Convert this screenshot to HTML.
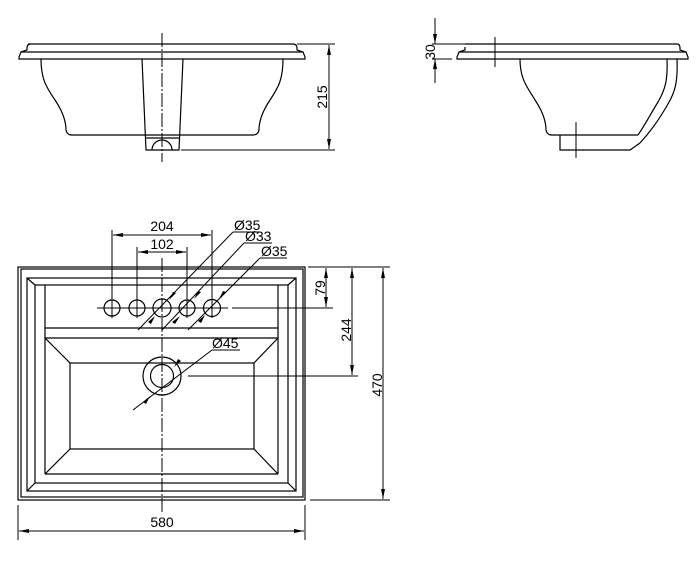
<!DOCTYPE html>
<html><head><meta charset="utf-8"><style>
html,body{margin:0;padding:0;background:#fff;}
svg{display:block;}
text{font-family:"Liberation Sans",sans-serif;font-size:14px;fill:#000;}
</style></head><body>
<svg width="700" height="562" viewBox="0 0 700 562" xmlns="http://www.w3.org/2000/svg">
<defs>
<marker id="a" viewBox="0 0 10 4" refX="10" refY="2" markerWidth="10" markerHeight="4" markerUnits="userSpaceOnUse" orient="auto-start-reverse"><path d="M0,0 L10,2 L0,4 z" fill="#000"/></marker>
</defs>
<g fill="none" stroke="#000" stroke-width="1.2">
<path d="M28,44 L293,44 Q297,44 297,48 L297,50 L303,52 L305,57 L305,59 L19,59 L19,57 L21,52 L27,50 L27,48 Q27,44 31,44"/>
<line x1="21" y1="52" x2="303" y2="52"/>
<path d="M41,59 C41,80 47,88 55,100 C63,112 66,122 66,130 Q67,135 72,135 L253,135 Q258,135 259,130 C259,122 262,112 270,100 C278,88 283,80 283,59"/>
<path d="M142,59 L146,150 L179,150 L183,59"/>
<line x1="145" y1="138" x2="180" y2="138"/>
<path d="M152,150 A10,10 0 0 1 172,150"/>
<line x1="297" y1="44" x2="335" y2="44" stroke-width="1"/>
<line x1="181" y1="150" x2="335" y2="150" stroke-width="1"/>
<line x1="329" y1="45" x2="329" y2="149" stroke-width="1" marker-start="url(#a)" marker-end="url(#a)"/>
<line x1="162" y1="33" x2="162" y2="162" stroke-width="1" stroke-dasharray="14,2,2,2"/>
<path d="M465,44 L677,44 Q680,44 680,48 L680,50 L686,52 L688,57 L688,59 L457,59 L457,57 L459,52 L465,50 L465,47"/>
<line x1="459" y1="52" x2="686" y2="52"/>
<path d="M520,59 C520,80 528,88 535,100 C543,112 546,122 546,130 Q547,135 552,135 L638,135"/>
<path d="M560,135 L560,150 L630,150 L640,143"/>
<path d="M667,59 C668,80 665,90 658,102 C650,115 645,125 638,135"/>
<path d="M677,59 C678,82 675,92 668,104 C660,118 652,130 640,143"/>
<line x1="495" y1="37" x2="495" y2="67" stroke-width="1"/>
<line x1="576" y1="122" x2="576" y2="158" stroke-width="1"/>
<line x1="432" y1="44" x2="465" y2="44" stroke-width="1"/>
<line x1="432" y1="59" x2="452" y2="59" stroke-width="1"/>
<line x1="435" y1="18" x2="435" y2="44" stroke-width="1" marker-end="url(#a)"/>
<line x1="435" y1="83" x2="435" y2="59" stroke-width="1" marker-end="url(#a)"/>
<rect x="18" y="267" width="287" height="233"/>
<rect x="21" y="269" width="282" height="228"/>
<rect x="27" y="278" width="269" height="213"/>
<rect x="35" y="285" width="253" height="198"/>
<line x1="27" y1="278" x2="35" y2="285"/><line x1="296" y1="278" x2="288" y2="285"/>
<line x1="27" y1="491" x2="35" y2="483"/><line x1="296" y1="491" x2="288" y2="483"/>
<line x1="45" y1="285" x2="45" y2="474"/><line x1="278" y1="285" x2="278" y2="474"/>
<line x1="45" y1="328" x2="278" y2="328"/>
<line x1="45" y1="338" x2="278" y2="338"/>
<line x1="45" y1="474" x2="278" y2="474"/>
<rect x="70" y="363" width="184" height="86"/>
<line x1="45" y1="338" x2="70" y2="363"/><line x1="278" y1="338" x2="254" y2="363"/>
<line x1="45" y1="474" x2="70" y2="449"/><line x1="278" y1="474" x2="254" y2="449"/>
<circle cx="112" cy="308" r="8"/><circle cx="137" cy="308" r="8"/><circle cx="162" cy="308" r="9"/><circle cx="187" cy="308" r="8"/><circle cx="212" cy="308" r="8.5"/>
<circle cx="162" cy="376" r="19"/><circle cx="162" cy="376" r="11.5"/>
<g stroke-width="1">
<line x1="97" y1="308" x2="228" y2="308"/>
<line x1="232" y1="308" x2="333" y2="308"/>
<line x1="188" y1="376" x2="358" y2="376"/>
<line x1="162" y1="258" x2="162" y2="512" stroke-dasharray="14,2,2,2"/>
<line x1="112" y1="230" x2="112" y2="318"/><line x1="137" y1="247" x2="137" y2="318"/>
<line x1="187" y1="247" x2="187" y2="318"/><line x1="212" y1="230" x2="212" y2="318"/>
<line x1="113" y1="235" x2="211" y2="235" marker-start="url(#a)" marker-end="url(#a)"/>
<line x1="138" y1="252" x2="186" y2="252" marker-start="url(#a)" marker-end="url(#a)"/>
<line x1="233" y1="232" x2="260" y2="232"/><line x1="233" y1="232" x2="138" y2="330"/>
<line x1="244" y1="243" x2="272" y2="243"/><line x1="244" y1="243" x2="162" y2="330"/>
<line x1="260" y1="258" x2="287" y2="258"/><line x1="260" y1="258" x2="188" y2="330"/>
<line x1="212" y1="350" x2="240" y2="350"/><line x1="212" y1="350" x2="133" y2="410"/>
<line x1="308" y1="267" x2="390" y2="267"/><line x1="310" y1="500" x2="390" y2="500"/>
<line x1="326" y1="268" x2="326" y2="307" marker-start="url(#a)" marker-end="url(#a)"/>
<line x1="352" y1="268" x2="352" y2="375" marker-start="url(#a)" marker-end="url(#a)"/>
<line x1="383" y1="268" x2="383" y2="499" marker-start="url(#a)" marker-end="url(#a)"/>
<line x1="18" y1="505" x2="18" y2="540"/><line x1="305" y1="505" x2="305" y2="540"/>
<line x1="19" y1="531" x2="304" y2="531" marker-start="url(#a)" marker-end="url(#a)"/>
</g>
</g>
<g fill="#000">
<path d="M148,322 L155,316 L151,324 z"/><path d="M176,293 L169,300 L173,292 z"/>
<path d="M172,322 L180,316 L175,324 z"/><path d="M201,292 L194,299 L198,291 z"/>
<path d="M198,321 L205,315 L201,323 z"/><path d="M226,292 L219,299 L223,291 z"/>
<path d="M143,402 L150,396 L146,404 z"/><path d="M181,361 L174,367 L178,359 z"/>
</g>
<text x="162" y="231" text-anchor="middle">204</text>
<text x="162" y="249" text-anchor="middle">102</text>
<text x="234" y="230">Ø35</text>
<text x="245" y="241">Ø33</text>
<text x="261" y="256">Ø35</text>
<text x="212" y="348">Ø45</text>
<text x="162" y="527" text-anchor="middle">580</text>
<text transform="translate(327,97) rotate(-90)" text-anchor="middle">215</text>
<text transform="translate(435,52) rotate(-90)" text-anchor="middle">30</text>
<text transform="translate(325,288) rotate(-90)" text-anchor="middle">79</text>
<text transform="translate(351,330) rotate(-90)" text-anchor="middle">244</text>
<text transform="translate(382,385) rotate(-90)" text-anchor="middle">470</text>
</svg>
</body></html>
